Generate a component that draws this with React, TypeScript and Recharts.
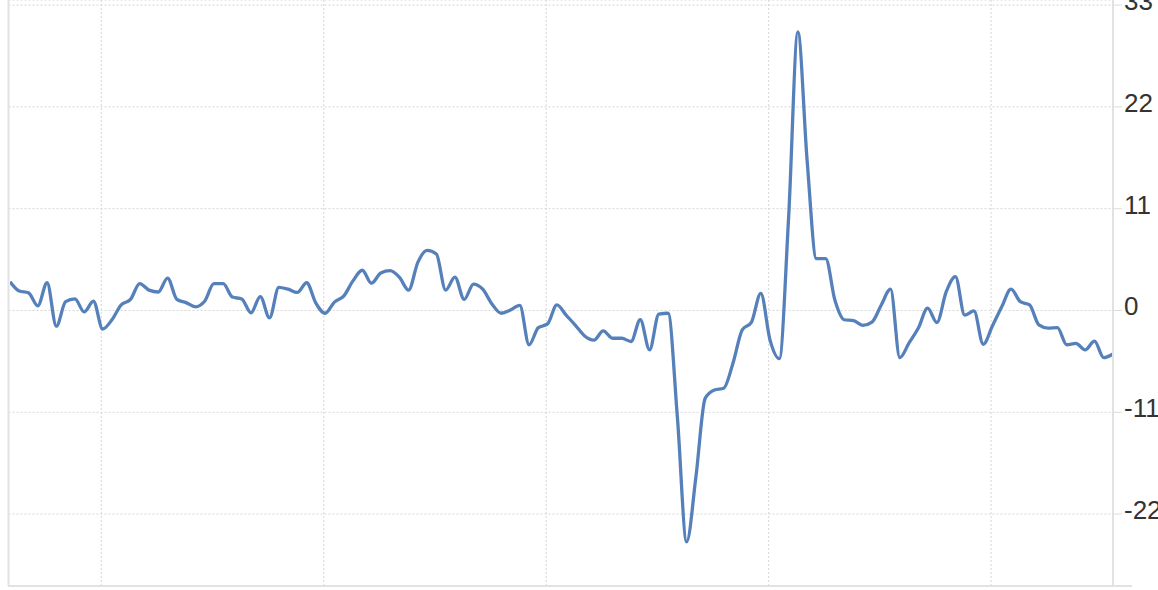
import React from "react";
import { LineChart, Line, XAxis, YAxis, CartesianGrid } from "recharts";

// Monthly year-over-year change, 120 months starting March 2014
const startYear = 2014;
const startMonth = 3;
const monthLabels: string[] = Array.from({ length: 120 }, (_, i) => {
  const m = startMonth - 1 + i;
  const y = startYear + Math.floor(m / 12);
  return `${y}-${String((m % 12) + 1).padStart(2, "0")}`;
});

const yoyChange: number[] = [
  3.1, 2.1, 1.9, 0.5, 3.0, -1.7, 0.95, 1.25, -0.15, 1.0,
  -2.0, -1.0, 0.6, 1.2, 2.9, 2.2, 2.0, 3.5, 1.2, 0.85,
  0.4, 1.0, 2.9, 2.9, 1.45, 1.25, -0.25, 1.5, -0.8, 2.5,
  2.3, 1.95, 3.0, 0.8, -0.3, 0.9, 1.55, 3.2, 4.35, 2.95,
  4.05, 4.3, 3.6, 2.2, 5.2, 6.5, 6.1, 2.2, 3.6, 1.2,
  2.85, 2.3, 0.7, -0.3, 0.05, 0.55, -3.7, -1.85, -1.45, 0.6,
  -0.5, -1.6, -2.75, -3.2, -2.2, -3.0, -3.0, -3.35, -1.0, -4.25,
  -0.4, -0.3, -11.5, -25.0, -18.0, -9.5, -8.6, -8.4, -5.7, -2.1,
  -1.25, 1.85, -3.2, -5.2, 10.0, 30.1, 16.2, 5.6, 5.6, 1.1,
  -1.0, -1.1, -1.6, -1.25, 0.6, 2.3, -5.1, -3.5, -1.9, 0.25,
  -1.3, 2.0, 3.65, -0.5, -0.05, -3.65, -1.65, 0.4, 2.3, 0.95,
  0.6, -1.55, -1.9, -1.85, -3.7, -3.55, -4.25, -3.3, -5.1, -4.7,
];

// Year boundaries (in month-index units) used for vertical grid lines
const yearTicks: number[] = [9.85, 33.85, 57.85, 81.85, 105.85];
const yTicks: number[] = [-22, -11, 0, 11, 22, 33];
const yDomain: [number, number] = [-29.77, 33.55];

const data = monthLabels.map((month, i) => ({ idx: i, month, value: yoyChange[i] }));

const RightTick = (props: any) => {
  const { x, y, payload } = props;
  return (
    <text
      x={x}
      y={y}
      dy={5}
      textAnchor="start"
      fill="#333333"
      fontSize={26}
      fontFamily="'Liberation Sans', Arial, sans-serif"
    >
      {payload.value}
    </text>
  );
};

const EmptyTick = () => <g />;

export default function App() {
  return (
    <div
      style={{
        position: "absolute",
        left: 0,
        top: 0,
        width: 1158,
        height: 590,
        overflow: "hidden",
        background: "#ffffff",
      }}
    >
      <LineChart
        width={1158}
        height={590}
        data={data}
        margin={{ top: 0, right: 0, bottom: 4, left: 7.5 }}
      >
        <CartesianGrid stroke="#d6d6d6" strokeDasharray="2 2" />
        <XAxis
          dataKey="idx"
          type="number"
          domain={[0, 119]}
          ticks={yearTicks}
          interval={0}
          height={0}
          tick={<EmptyTick />}
          tickLine={false}
          axisLine={false}
          padding={{ left: 1.5, right: 0 }}
          allowDataOverflow
        />
        <YAxis
          yAxisId="frame"
          orientation="left"
          width={1}
          tick={false}
          tickLine={false}
          axisLine={{ stroke: "#e2e2e2", strokeWidth: 2 }}
        />
        <YAxis
          orientation="right"
          width={45}
          domain={yDomain}
          ticks={yTicks}
          interval={0}
          allowDataOverflow
          tickSize={9}
          tickMargin={2}
          tickLine={{ stroke: "#dddddd" }}
          axisLine={{ stroke: "#e2e2e2", strokeWidth: 2 }}
          tick={<RightTick />}
        />
        <Line
          type="monotone"
          dataKey="value"
          stroke="#5580ba"
          strokeWidth={3.3}
          dot={false}
          isAnimationActive={false}
        />
      </LineChart>
      <div
        style={{
          position: "absolute",
          left: 8,
          top: 585,
          width: 1124,
          height: 2,
          background: "#e2e2e2",
        }}
      />
    </div>
  );
}
